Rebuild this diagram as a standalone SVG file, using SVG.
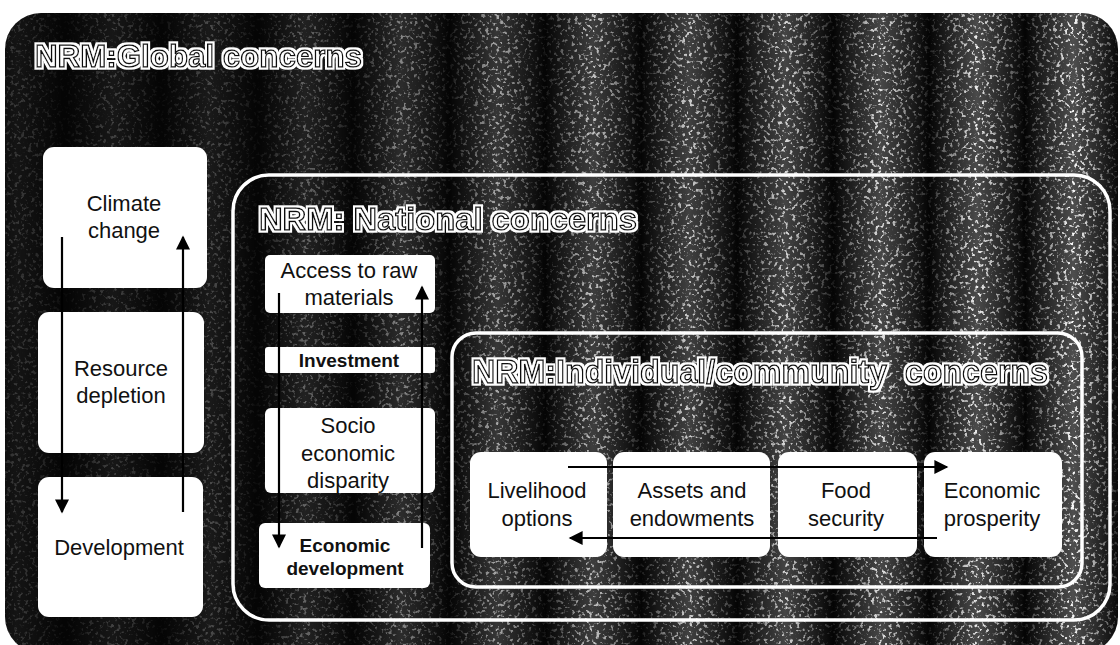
<svg xmlns="http://www.w3.org/2000/svg" width="1120" height="645" viewBox="0 0 1120 645">
<style>
.node{fill:#ffffff;}
.lbl{font-family:"Liberation Sans",Arial,sans-serif;font-size:22px;fill:#111;text-anchor:middle;}
.lblb{font-family:"Liberation Sans",Arial,sans-serif;font-weight:bold;fill:#111;text-anchor:middle;}
.title{font-family:"Liberation Sans",Arial,sans-serif;font-weight:bold;fill:#fff;stroke:#111;stroke-width:1.4px;filter:url(#halo);}
.frame{fill:none;stroke:#fff;stroke-width:3.5;}
.conn{stroke:#000;stroke-width:2.2;fill:none;marker-end:url(#arr);}
</style>
<defs>
<marker id="arr" viewBox="0 0 10 10" refX="9" refY="5" markerWidth="15" markerHeight="14" markerUnits="userSpaceOnUse" orient="auto">
<path d="M0,0 L10,5 L0,10 z" fill="#000"/>
</marker>
<linearGradient id="band" x1="0" x2="1" y1="0" y2="0">
<stop offset="0" stop-color="#fff" stop-opacity="0"/>
<stop offset="0.5" stop-color="#fff" stop-opacity="0.3"/>
<stop offset="1" stop-color="#fff" stop-opacity="0"/>
</linearGradient>
<linearGradient id="bandM" x1="0" x2="1" y1="0" y2="0">
<stop offset="0" stop-color="#fff" stop-opacity="0.1"/>
<stop offset="0.5" stop-color="#fff" stop-opacity="1"/>
<stop offset="1" stop-color="#fff" stop-opacity="0.1"/>
</linearGradient>
<pattern id="bands" patternUnits="userSpaceOnUse" x="65" y="0" width="96" height="645">
<rect x="0" y="0" width="96" height="645" fill="url(#band)"/>
</pattern>
<pattern id="bandsMask" patternUnits="userSpaceOnUse" x="65" y="0" width="96" height="645">
<rect x="0" y="0" width="96" height="645" fill="url(#bandM)"/>
</pattern>
<linearGradient id="fade" x1="0" x2="1" y1="0" y2="0">
<stop offset="0" stop-color="#fff" stop-opacity="0.2"/>
<stop offset="0.22" stop-color="#fff" stop-opacity="0.3"/>
<stop offset="0.5" stop-color="#fff" stop-opacity="0.75"/>
<stop offset="1" stop-color="#fff" stop-opacity="1"/>
</linearGradient>
<mask id="fadeMask" maskUnits="userSpaceOnUse" x="0" y="0" width="1120" height="645">
<rect x="0" y="0" width="1120" height="645" fill="url(#fade)"/>
</mask>
<mask id="bandMask" maskUnits="userSpaceOnUse" x="0" y="0" width="1120" height="645">
<rect x="0" y="0" width="1120" height="645" fill="url(#bandsMask)"/>
</mask>
<clipPath id="outerClip">
<rect x="5" y="13" width="1113" height="640" rx="36"/>
</clipPath>
<filter id="speckle" x="0" y="0" width="1" height="1">
<feTurbulence type="fractalNoise" baseFrequency="0.28" numOctaves="2" seed="7"/>
<feColorMatrix type="matrix" values="0 0 0 0 1  0 0 0 0 1  0 0 0 0 1  7 0 0 0 -3.9"/>
</filter>
<filter id="halo" x="-5%" y="-30%" width="110%" height="160%">
<feMorphology in="SourceAlpha" operator="dilate" radius="1.6" result="d"/>
<feFlood flood-color="#ffffff"/>
<feComposite in2="d" operator="in" result="w"/>
<feMerge><feMergeNode in="w"/><feMergeNode in="SourceGraphic"/></feMerge>
</filter>
</defs>

<rect x="0" y="0" width="1120" height="645" fill="#ffffff"/>

<g id="background" clip-path="url(#outerClip)">
<rect x="5" y="13" width="1113" height="640" fill="#050505"/>
<g mask="url(#fadeMask)">
<rect x="5" y="13" width="1113" height="640" fill="url(#bands)"/>
<g mask="url(#bandMask)">
<rect x="5" y="13" width="1113" height="640" filter="url(#speckle)"/>
</g>
</g>
</g>

<g id="global">
<text class="title" x="35" y="67" font-size="32" textLength="327" lengthAdjust="spacingAndGlyphs">NRM:Global concerns</text>
</g>

<g id="national">
<rect class="frame" x="233" y="175" width="877" height="445" rx="36"/>
<text class="title" x="259" y="230" font-size="32" textLength="378" lengthAdjust="spacingAndGlyphs">NRM: National concerns</text>
</g>

<g id="individual">
<rect class="frame" x="452" y="333" width="630" height="254" rx="24"/>
<text class="title" x="472" y="383" font-size="33" textLength="576" lengthAdjust="spacingAndGlyphs" xml:space="preserve">NRM:Individual/community  concerns</text>
</g>

<g id="climate-change">
<rect class="node" x="43" y="147" width="164" height="141" rx="11"/>
<text class="lbl" x="124" y="211">Climate</text>
<text class="lbl" x="124" y="238">change</text>
</g>
<g id="resource-depletion">
<rect class="node" x="38" y="312" width="166" height="141" rx="11"/>
<text class="lbl" x="121" y="376">Resource</text>
<text class="lbl" x="121" y="403">depletion</text>
</g>
<g id="development">
<rect class="node" x="38" y="477" width="165" height="140" rx="11"/>
<text class="lbl" x="119" y="555">Development</text>
</g>

<g id="access-raw-materials">
<rect class="node" x="265" y="255" width="170" height="58" rx="5"/>
<text class="lbl" x="349" y="278" font-size="21">Access to raw</text>
<text class="lbl" x="349" y="305" font-size="21">materials</text>
</g>
<g id="investment">
<rect class="node" x="265" y="347" width="170" height="26" rx="3"/>
<text class="lblb" x="349" y="367" font-size="19">Investment</text>
</g>
<g id="socio-economic-disparity">
<rect class="node" x="265" y="408" width="170" height="85" rx="6"/>
<text class="lbl" x="348" y="433" font-size="22">Socio</text>
<text class="lbl" x="348" y="461" font-size="22">economic</text>
<text class="lbl" x="348" y="488" font-size="22">disparity</text>
</g>
<g id="economic-development">
<rect class="node" x="259" y="523" width="171" height="65" rx="6"/>
<text class="lblb" x="345" y="552" font-size="19">Economic</text>
<text class="lblb" x="345" y="575" font-size="19">development</text>
</g>

<g id="livelihood-options">
<rect class="node" x="470" y="452" width="137" height="105" rx="11"/>
<text class="lbl" x="537" y="498">Livelihood</text>
<text class="lbl" x="537" y="526">options</text>
</g>
<g id="assets-endowments">
<rect class="node" x="613" y="452" width="157" height="105" rx="11"/>
<text class="lbl" x="692" y="498">Assets and</text>
<text class="lbl" x="692" y="526">endowments</text>
</g>
<g id="food-security">
<rect class="node" x="778" y="452" width="139" height="105" rx="11"/>
<text class="lbl" x="846" y="498">Food</text>
<text class="lbl" x="846" y="526">security</text>
</g>
<g id="economic-prosperity">
<rect class="node" x="924" y="452" width="138" height="105" rx="11"/>
<text class="lbl" x="992" y="498">Economic</text>
<text class="lbl" x="992" y="526">prosperity</text>
</g>

<g id="connectors">
<line class="conn" x1="62" y1="237" x2="62" y2="512"/>
<line class="conn" x1="183" y1="512" x2="183" y2="237"/>
<line class="conn" x1="279" y1="293" x2="279" y2="547"/>
<line class="conn" x1="422" y1="548" x2="422" y2="287"/>
<line class="conn" x1="568" y1="467" x2="947" y2="467"/>
<line class="conn" x1="937" y1="538" x2="570" y2="538"/>
</g>
</svg>
